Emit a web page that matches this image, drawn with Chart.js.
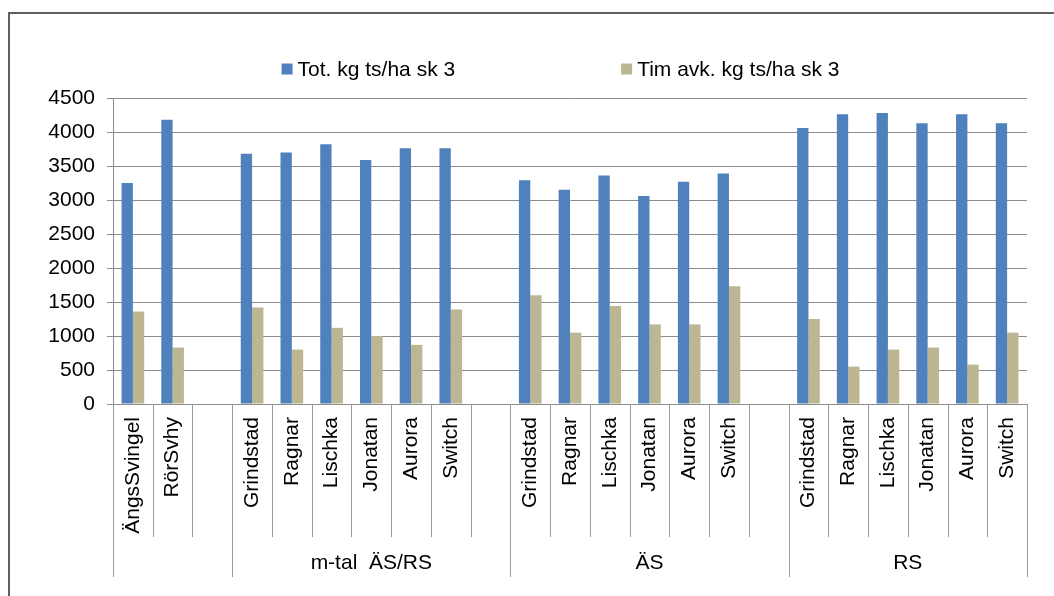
<!DOCTYPE html>
<html>
<head>
<meta charset="utf-8">
<script src="https://cdn.jsdelivr.net/npm/chart.js@4/dist/chart.umd.min.js"></script>
<style>
  html, body { margin: 0; padding: 0; background: #ffffff; }
  #wrap { position: relative; width: 1054px; height: 596px; }
</style>
</head>
<body>
<div id="wrap"><canvas id="c" width="1054" height="596"></canvas></div>
<script>
const categories = [
  'ÄngsSvingel', 'RörSvhy', '',
  'Grindstad', 'Ragnar', 'Lischka', 'Jonatan', 'Aurora', 'Switch', '',
  'Grindstad', 'Ragnar', 'Lischka', 'Jonatan', 'Aurora', 'Switch', '',
  'Grindstad', 'Ragnar', 'Lischka', 'Jonatan', 'Aurora', 'Switch'
];
const totValues = [
  3250, 4180, null,
  3680, 3700, 3820, 3590, 3760, 3760, null,
  3290, 3150, 3360, 3060, 3270, 3390, null,
  4060, 4260, 4280, 4130, 4260, 4130
];
const timValues = [
  1360, 830, null,
  1420, 800, 1120, 1000, 870, 1390, null,
  1600, 1050, 1440, 1170, 1170, 1730, null,
  1250, 550, 800, 830, 580, 1050
];
const seriesNames = ['Tot. kg ts/ha sk 3', 'Tim avk. kg ts/ha sk 3'];
const groupLabels = ['', 'm-tal  ÄS/RS', 'ÄS', 'RS'];
const groupSizes = [3, 7, 7, 6];
const yTicks = [0, 500, 1000, 1500, 2000, 2500, 3000, 3500, 4000, 4500];

const FONT = "'Liberation Sans', Arial, sans-serif";
const FS = 21;

const framePlugin = {
  id: 'frame',
  beforeDraw(chart) {
    const ctx = chart.ctx;
    ctx.save();
    ctx.fillStyle = '#ffffff';
    ctx.fillRect(0, 0, chart.width, chart.height);
    ctx.strokeStyle = '#5f5f5f';
    ctx.lineWidth = 2;
    ctx.beginPath();
    ctx.moveTo(9, chart.height);
    ctx.lineTo(9, 13);
    ctx.lineTo(chart.width, 13);
    ctx.stroke();
    ctx.restore();
  }
};

const customLegend = {
  id: 'customLegend',
  afterDraw(chart) {
    const ctx = chart.ctx;
    ctx.save();
    ctx.font = FS + 'px ' + FONT;
    ctx.textBaseline = 'middle';
    ctx.textAlign = 'left';
    const box = 11, textGap = 5, itemGap = 166;
    const ds = chart.data.datasets;
    const widths = ds.map(d => box + textGap + ctx.measureText(d.label).width);
    const total = widths.reduce((a, b) => a + b, 0) + itemGap * (ds.length - 1);
    const area = chart.chartArea;
    let x = (area.left + area.right) / 2 - 9.5 - total / 2;
    const y = 69;
    ds.forEach((d, i) => {
      ctx.fillStyle = d.backgroundColor;
      ctx.fillRect(x, y - box / 2, box, box);
      ctx.fillStyle = '#000000';
      ctx.fillText(d.label, x + box + textGap, y + 1);
      x += widths[i] + itemGap;
    });
    ctx.restore();
  }
};

const groupAxis = {
  id: 'groupAxis',
  afterDraw(chart) {
    const ctx = chart.ctx;
    const xs = chart.scales.x;
    const n = categories.length;
    const half = (xs.getPixelForValue(1) - xs.getPixelForValue(0)) / 2;
    const top = chart.chartArea.bottom;
    const catBottom = top + 133;
    const groupBottom = top + 173;
    const groupStartIdx = new Set();
    let acc = 0;
    groupSizes.forEach(s => { groupStartIdx.add(acc); acc += s; });
    groupStartIdx.add(acc);
    ctx.save();
    ctx.lineWidth = 1;
    for (let i = 0; i <= n; i++) {
      const px = Math.round(i < n ? xs.getPixelForValue(i) - half : xs.getPixelForValue(n - 1) + half) + 0.5;
      const isGroup = groupStartIdx.has(i);
      ctx.strokeStyle = '#9a9a9a';
      ctx.beginPath();
      ctx.moveTo(px, top);
      ctx.lineTo(px, isGroup ? groupBottom : catBottom);
      ctx.stroke();
    }
    ctx.font = FS + 'px ' + FONT;
    ctx.fillStyle = '#000000';
    ctx.textAlign = 'center';
    ctx.textBaseline = 'middle';
    let start = 0;
    groupSizes.forEach((s, gi) => {
      const left = xs.getPixelForValue(start) - half;
      const right = xs.getPixelForValue(start + s - 1) + half;
      if (groupLabels[gi]) ctx.fillText(groupLabels[gi], (left + right) / 2, top + 159);
      start += s;
    });
    ctx.restore();
  }
};

new Chart(document.getElementById('c'), {
  type: 'bar',
  data: {
    labels: categories,
    datasets: [
      { label: seriesNames[0], data: totValues, backgroundColor: '#4f81bd', borderWidth: 0 },
      { label: seriesNames[1], data: timValues, backgroundColor: '#bcb692', borderWidth: 0 }
    ]
  },
  options: {
    responsive: false,
    animation: false,
    devicePixelRatio: 1,
    layout: { padding: { top: 98, right: 27, left: 0, bottom: 0 } },
    plugins: { legend: { display: false }, tooltip: { enabled: false } },
    datasets: { bar: { categoryPercentage: 0.57, barPercentage: 1.0 } },
    scales: {
      x: {
        offset: true,
        grid: { display: false, drawTicks: false },
        border: { display: true, color: '#8c8c8c', width: 1 },
        ticks: {
          autoSkip: false, minRotation: 90, maxRotation: 90, padding: 13,
          color: '#000000', font: { family: FONT, size: FS }
        },
        afterFit(scale) { scale.height = 192; }
      },
      y: {
        min: 0, max: 4500,
        afterBuildTicks(scale) { scale.ticks = yTicks.map(v => ({ value: v })); },
        grid: { color: '#8c8c8c', lineWidth: 1, tickLength: 6, drawTicks: true },
        border: { display: true, color: '#8c8c8c', width: 1 },
        ticks: {
          padding: 12, color: '#000000', font: { family: FONT, size: FS },
          callback: (v) => String(v)
        },
        afterFit(scale) { scale.width = 113; }
      }
    }
  },
  plugins: [framePlugin, customLegend, groupAxis]
});
</script>
</body>
</html>
